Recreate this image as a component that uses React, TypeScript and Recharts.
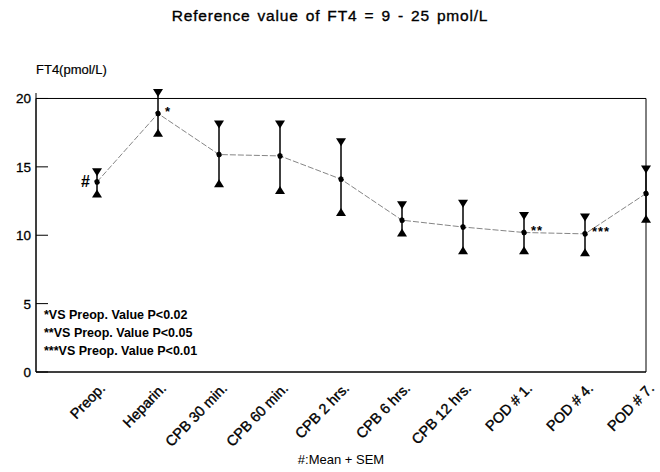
import {
  ComposedChart,
  Line,
  Scatter,
  ErrorBar,
  XAxis,
  YAxis,
  ReferenceArea,
  LabelList,
} from 'recharts';

const categories = [
  'Preop.',
  'Heparin.',
  'CPB 30 min.',
  'CPB 60 min.',
  'CPB 2 hrs.',
  'CPB 6 hrs.',
  'CPB 12 hrs.',
  'POD # 1.',
  'POD # 4.',
  'POD # 7.',
];
const meanValues = [13.9, 18.9, 15.9, 15.8, 14.1, 11.1, 10.6, 10.2, 10.1, 13.05];
const upperValues = [14.6, 20.4, 18.1, 18.1, 16.8, 12.2, 12.3, 11.4, 11.3, 14.8];
const lowerValues = [13.05, 17.5, 13.8, 13.3, 11.7, 10.2, 8.9, 8.9, 8.75, 11.2];
const notes = ['#', '*', '', '', '', '', '', '**', '***', ''];
const yTicks = [0, 5, 10, 15, 20];
const footnotes = [
  '*VS Preop. Value P<0.02',
  '**VS Preop. Value P<0.05',
  '***VS Preop. Value P<0.01',
];

const data = categories.map((name, i) => ({
  i,
  name,
  mean: meanValues[i],
  high: upperValues[i],
  low: lowerValues[i],
  err: [meanValues[i] - lowerValues[i], upperValues[i] - meanValues[i]],
  note: notes[i],
}));

const FONT = '"Liberation Sans", Arial, Helvetica, sans-serif';

// marker at the top of an error bar
const DownTriangle = (props: any) => {
  const { cx, cy } = props;
  return <path d={`M${cx - 5},${cy - 4} L${cx + 5},${cy - 4} L${cx},${cy + 4} Z`} fill="#000" />;
};

// marker at the bottom of an error bar
const UpTriangle = (props: any) => {
  const { cx, cy } = props;
  return <path d={`M${cx - 5},${cy + 4} L${cx + 5},${cy + 4} L${cx},${cy - 4} Z`} fill="#000" />;
};

const XTick = (props: any) => {
  const { x, y, payload } = props;
  const label = categories[payload.value] ?? '';
  return (
    <g transform={`translate(${x + 9}, ${y + 15}) rotate(-46)`}>
      <text x={0} y={0} textAnchor="end" fontSize={14.5} fontFamily={FONT} fill="#000" stroke="#000" strokeWidth={0.35}>
        {label}
      </text>
    </g>
  );
};

const YTick = (props: any) => {
  const { x, y, payload } = props;
  return (
    <g>
      <line x1={x + 5} x2={x + 17} y1={y} y2={y} stroke="#000" strokeWidth={1} />
      <text x={x} y={y} dy={5} textAnchor="end" fontSize={13.5} fontFamily={FONT} fill="#000" stroke="#000" strokeWidth={0.3}>
        {payload.value}
      </text>
    </g>
  );
};

const NoteLabel = (props: any) => {
  const { x, y, value } = props;
  if (!value) return null;
  if (value === '#') {
    return (
      <text x={x - 7} y={y + 5} textAnchor="end" fontSize={16} fontWeight="bold" fontFamily={FONT} fill="#000">
        {value}
      </text>
    );
  }
  return (
    <text x={x + 7} y={y + 2} textAnchor="start" fontSize={13} fontWeight="bold" fontFamily={FONT} letterSpacing={1} fill="#000">
      {value}
    </text>
  );
};

export default function App() {
  return (
    <div
      style={{
        position: 'absolute',
        left: 0,
        top: 0,
        width: 660,
        height: 472,
        background: '#fff',
        fontFamily: FONT,
        color: '#000',
      }}
    >
      <div
        style={{
          position: 'absolute',
          left: 0,
          width: 660,
          top: 7,
          textAlign: 'center',
          fontSize: 15.5,
          letterSpacing: 0.8,
          wordSpacing: 2,
          WebkitTextStroke: '0.35px #000',
        }}
      >
        Reference value of FT4 = 9 - 25 pmol/L
      </div>
      <div style={{ position: 'absolute', left: 36, top: 62, fontSize: 13, WebkitTextStroke: '0.2px #000' }}>
        FT4(pmol/L)
      </div>
      {footnotes.map((t, k) => (
        <div
          key={t}
          style={{ position: 'absolute', left: 44, top: 308 + k * 18, fontSize: 12.5, fontWeight: 'bold' }}
        >
          {t}
        </div>
      ))}
      <ComposedChart
        width={660}
        height={472}
        data={data}
        margin={{ top: 93, right: 14, left: 0, bottom: 0 }}
        style={{ position: 'absolute', left: 0, top: 0 }}
      >
        <XAxis
          dataKey="i"
          type="number"
          domain={[-1, 9]}
          ticks={[0, 1, 2, 3, 4, 5, 6, 7, 8, 9]}
          height={100}
          tick={<XTick />}
          tickLine={false}
          tickSize={0}
          axisLine={{ stroke: '#000' }}
          label={{ value: '#:Mean + SEM', position: 'insideBottom', offset: 8, fontSize: 13, fill: '#000', fontFamily: FONT }}
        />
        <YAxis
          type="number"
          domain={[0, 20]}
          ticks={yTicks}
          width={36}
          tick={<YTick />}
          tickLine={false}
          tickSize={0}
          tickMargin={5}
          axisLine={{ stroke: '#000' }}
        />
        <ReferenceArea x1={-1} x2={9} y1={0} y2={20} fill="none" stroke="#000" strokeWidth={1} fillOpacity={0} />
        <Line
          dataKey="mean"
          stroke="#666"
          strokeWidth={0.8}
          strokeDasharray="6 2"
          dot={{ r: 2.5, fill: '#000', stroke: '#000' }}
          isAnimationActive={false}
        >
          <ErrorBar dataKey="err" width={0} stroke="#000" strokeWidth={1.5} direction="y" />
          <LabelList dataKey="note" content={<NoteLabel />} />
        </Line>
        <Scatter dataKey="high" shape={<DownTriangle />} isAnimationActive={false} />
        <Scatter dataKey="low" shape={<UpTriangle />} isAnimationActive={false} />
      </ComposedChart>
    </div>
  );
}
